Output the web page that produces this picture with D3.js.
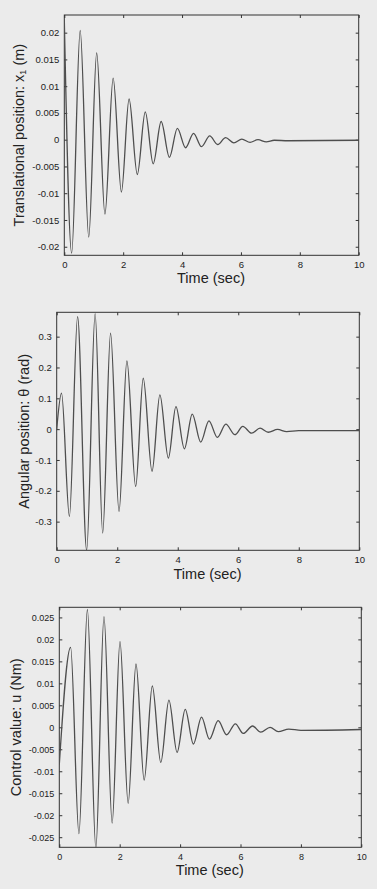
<!DOCTYPE html>
<html><head><meta charset="utf-8">
<script src="https://cdn.jsdelivr.net/npm/d3@7"></script>
<style>
html,body{margin:0;padding:0;background:#ebebeb;}
svg{display:block;}
text{font-family:"Liberation Sans",Arial,sans-serif;fill:#222;}
</style></head>
<body>
<svg id="chart" width="377" height="889"></svg>
<script>
// ---- data (extrema; curve drawn smoothly through them) ----
const xTicks = [0, 2, 4, 6, 8, 10];

const posTime = [0, 0.25, 0.54, 0.83, 1.10, 1.38, 1.66, 1.94, 2.20, 2.48, 2.75, 3.02, 3.29, 3.57, 3.84, 4.12, 4.39, 4.66, 4.94, 5.21, 5.48, 5.76, 6.03, 6.31, 6.58, 6.86, 7.13, 7.6, 10];
const posValue = [0.0225, -0.0212, 0.0204, -0.0182, 0.0162, -0.0139, 0.0115, -0.0098, 0.0076, -0.0065, 0.0052, -0.0045, 0.0034, -0.0033, 0.0021, -0.0015, 0.0012, -0.0013, 0.0007, -0.0009, 0.0004, -0.0006, 0.0001, -0.0005, 0.0000, -0.0004, -0.0001, -0.0002, -0.0001];
const posTicks = [-0.02, -0.015, -0.01, -0.005, 0, 0.005, 0.01, 0.015, 0.02];

const angTime = [0, 0.16, 0.42, 0.69, 0.99, 1.27, 1.52, 1.78, 2.06, 2.32, 2.61, 2.86, 3.15, 3.41, 3.69, 3.94, 4.22, 4.48, 4.76, 5.03, 5.31, 5.59, 5.89, 6.15, 6.44, 6.72, 6.99, 7.3, 7.6, 8.0, 10];
const angValue = [0.0, 0.117, -0.283, 0.365, -0.393, 0.375, -0.337, 0.311, -0.267, 0.221, -0.186, 0.165, -0.137, 0.111, -0.094, 0.073, -0.064, 0.049, -0.042, 0.027, -0.027, 0.016, -0.018, 0.009, -0.013, 0.003, -0.010, -0.001, -0.008, -0.005, -0.005];
const angTicks = [-0.3, -0.2, -0.1, 0, 0.1, 0.2, 0.3];

const ctlTime = [0, 0.375, 0.65, 0.93, 1.21, 1.48, 1.75, 2.01, 2.28, 2.54, 2.81, 3.08, 3.36, 3.63, 3.90, 4.17, 4.44, 4.71, 4.97, 5.26, 5.54, 5.83, 6.09, 6.40, 6.67, 6.98, 7.25, 7.6, 8.0, 10];
const ctlValue = [-0.0085, 0.0182, -0.0242, 0.0268, -0.0275, 0.0252, -0.0218, 0.0195, -0.0173, 0.0144, -0.0120, 0.0094, -0.0080, 0.0062, -0.0057, 0.0041, -0.0038, 0.0023, -0.0027, 0.0015, -0.0017, 0.0008, -0.0014, 0.0003, -0.0011, 0.0000, -0.0010, -0.0004, -0.0007, -0.0005];
const ctlTicks = [-0.025, -0.02, -0.015, -0.01, -0.005, 0, 0.005, 0.01, 0.015, 0.02, 0.025];

// ---- panels (layout) ----
const panels = [
  {time: posTime, value: posValue, ticks: posTicks, yDomain: [-0.0216, 0.0233],
   box: {l: 64.3, r: 358.7, t: 15, b: 255.3}, yLabelX: 19, xLabelY: 283, tickFont: 9.5,
   label: ["Translational position: x", "1", " (m)"]},
  {time: angTime, value: angValue, ticks: angTicks, yDomain: [-0.393, 0.379],
   box: {l: 56.7, r: 359.3, t: 312.3, b: 550.3}, yLabelX: 24, xLabelY: 579, tickFont: 9.5,
   label: ["Angular position: \u03b8 (rad)"]},
  {time: ctlTime, value: ctlValue, ticks: ctlTicks, yDomain: [-0.0273, 0.0273],
   box: {l: 59.3, r: 361.3, t: 607.3, b: 847.3}, yLabelX: 16, xLabelY: 875, tickFont: 9,
   label: ["Control value: u (Nm)"]}
];

const svg = d3.select("#chart");
const fmt = v => (Math.abs(v) < 1e-12 ? "0" : String(+v.toFixed(4)));

panels.forEach((p, i) => {
  const b = p.box;
  const x = d3.scaleLinear().domain([0, 10]).range([b.l, b.r]);
  const y = d3.scaleLinear().domain(p.yDomain).range([b.b, b.t]);
  const g = svg.append("g");
  const clipId = "clip" + i;
  g.append("clipPath").attr("id", clipId).append("rect")
    .attr("x", b.l).attr("y", b.t).attr("width", b.r - b.l).attr("height", b.b - b.t);

  // axes with inward ticks on all sides
  const tl = 3;
  g.append("g").attr("transform", `translate(0,${b.b})`)
    .call(d3.axisBottom(x).tickValues(xTicks).tickSizeInner(-tl).tickSizeOuter(0).tickPadding(6).tickFormat(d3.format("d")));
  g.append("g").attr("transform", `translate(0,${b.t})`)
    .call(d3.axisTop(x).tickValues(xTicks).tickSizeInner(-tl).tickSizeOuter(0).tickFormat(""));
  g.append("g").attr("transform", `translate(${b.l},0)`)
    .call(d3.axisLeft(y).tickValues(p.ticks).tickSizeInner(-tl).tickSizeOuter(0).tickPadding(5).tickFormat(fmt));
  g.append("g").attr("transform", `translate(${b.r},0)`)
    .call(d3.axisRight(y).tickValues(p.ticks).tickSizeInner(-tl).tickSizeOuter(0).tickFormat(""));
  g.selectAll(".domain").remove();
  g.selectAll(".tick line").attr("stroke", "#333");
  g.selectAll(".tick text").attr("font-size", p.tickFont + "px").attr("fill", "#1e1e1e")
    .style("font-family", "'Liberation Sans',Arial,sans-serif");

  // frame
  g.append("rect").attr("x", b.l).attr("y", b.t).attr("width", b.r - b.l).attr("height", b.b - b.t)
    .attr("fill", "none").attr("stroke", "#333").attr("stroke-width", 1);

  // curve
  const pts = p.time.map((t, k) => [t, p.value[k]]);
  g.append("path").datum(pts).attr("clip-path", `url(#${clipId})`)
    .attr("fill", "none").attr("stroke", "#4e4e4e").attr("stroke-width", 1.3)
    .attr("d", d3.line().x(d => x(d[0])).y(d => y(d[1])).curve(d3.curveMonotoneX));

  // x label
  g.append("text").attr("x", (b.l + b.r) / 2 - 0.5).attr("y", p.xLabelY)
    .attr("text-anchor", "middle").attr("font-size", "14.5px").text("Time (sec)");

  // y label
  const yl = g.append("text")
    .attr("transform", `translate(${p.yLabelX},${(b.t + b.b) / 2}) rotate(-90)`)
    .attr("text-anchor", "middle").attr("dominant-baseline", "central").attr("font-size", "14.5px");
  yl.append("tspan").text(p.label[0]);
  if (p.label.length > 1) {
    yl.append("tspan").attr("font-size", "9px").attr("dy", 4).text(p.label[1]);
    yl.append("tspan").attr("dy", -4).text(p.label[2]);
  }
});
</script>
</body></html>
